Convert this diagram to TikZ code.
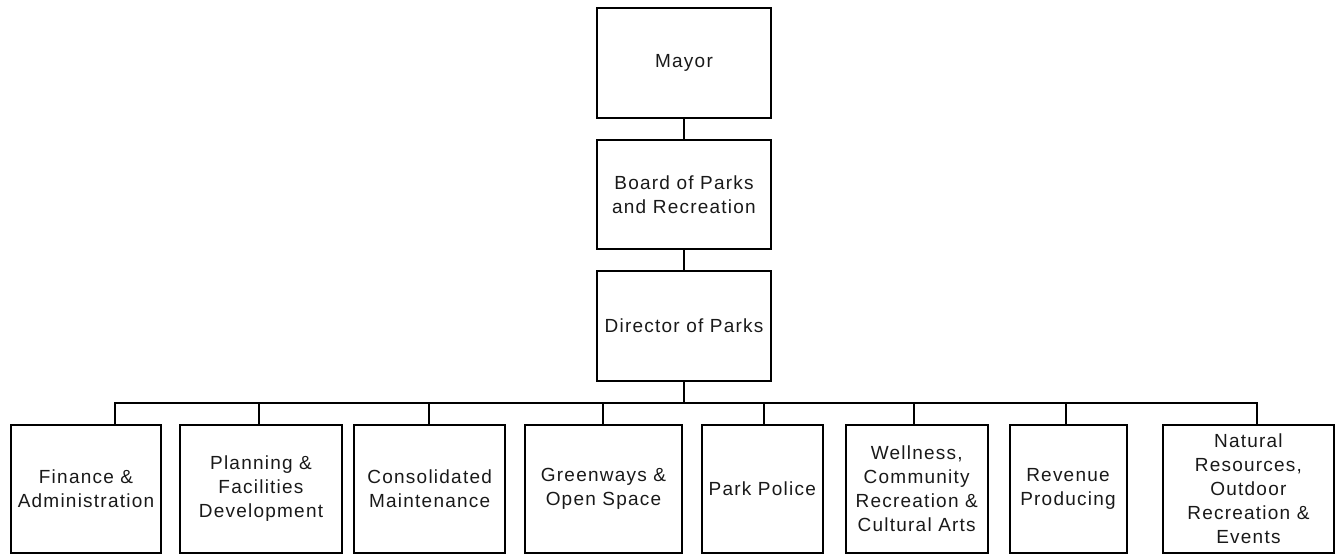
\documentclass[tikz,border=0pt]{standalone}
\usepackage{fontspec}
\setmainfont{Liberation Sans}[LetterSpace=6.5]
\begin{document}
\begin{tikzpicture}[x=1pt,y=-1pt,
  orgbox/.style={draw=black, line width=2pt, rectangle, inner sep=0pt, align=center,
    font=\fontsize{19}{24}\selectfont, text=black!90},
  link/.style={draw=black, line width=2pt}]
\useasboundingbox (0,0) rectangle (1336,557);
% top chain
\node[orgbox, minimum width=174pt, minimum height=110pt] (mayor) at (684,63) {Mayor};
\node[orgbox, minimum width=174pt, minimum height=109pt] (board) at (684,194.5) {Board of Parks\\and Recreation};
\node[orgbox, minimum width=174pt, minimum height=110pt] (dir) at (684,326) {Director of Parks};
% bottom row
\node[orgbox, minimum width=150pt, minimum height=128pt] (b1) at (86,489) {Finance \&\\Administration};
\node[orgbox, minimum width=162pt, minimum height=128pt] (b2) at (261,489) {Planning \&\\Facilities\\Development};
\node[orgbox, minimum width=151.5pt, minimum height=128pt] (b3) at (429.7,489) {Consolidated\\Maintenance};
\node[orgbox, minimum width=157pt, minimum height=128pt] (b4) at (603.5,489) {Greenways \&\\Open Space};
\node[orgbox, minimum width=120.7pt, minimum height=128pt] (b5) at (762.3,489) {Park Police};
\node[orgbox, minimum width=142pt, minimum height=128pt] (b6) at (916.7,489) {Wellness,\\Community\\Recreation \&\\Cultural Arts};
\node[orgbox, minimum width=117pt, minimum height=128pt] (b7) at (1068,489) {Revenue\\Producing};
\node[orgbox, minimum width=171pt, minimum height=128pt] (b8) at (1248.4,489) {Natural\\Resources,\\Outdoor\\Recreation \&\\Events};
% bus coordinates
\coordinate (bus1) at (114.7,403.3);
\coordinate (bus2) at (259.3,403.3);
\coordinate (bus3) at (429,403.3);
\coordinate (bus4) at (603.3,403.3);
\coordinate (bus5) at (764,403.3);
\coordinate (bus6) at (914,403.3);
\coordinate (bus7) at (1066,403.3);
\coordinate (bus8) at (1256.7,403.3);
% connectors
\draw[link] (mayor.south) -- (board.north);
\draw[link] (board.south) -- (dir.north);
\draw[link] (dir.south) -- (dir.south |- bus1);
\draw[link, line cap=rect] (bus1) -- (bus8);
\foreach \i in {1,...,8} {
  \draw[link] (bus\i) -- (bus\i |- b\i.north);
}
\end{tikzpicture}
\end{document}
